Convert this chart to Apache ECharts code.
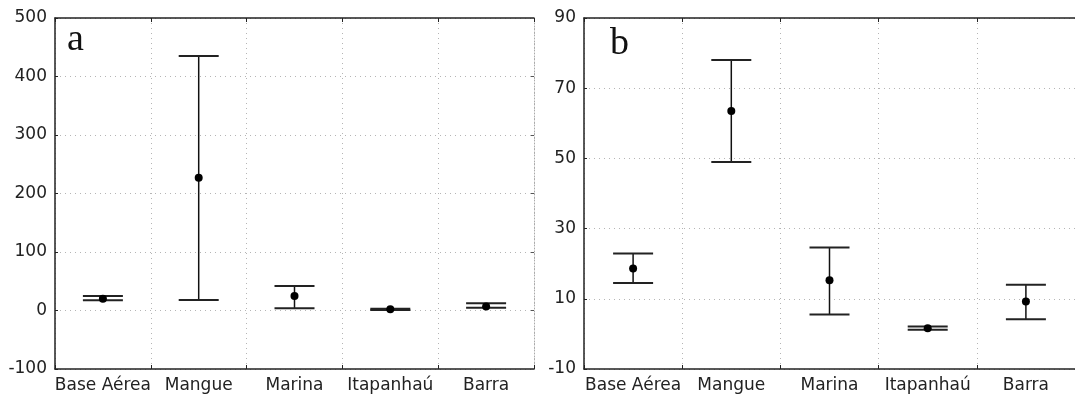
<!DOCTYPE html>
<html>
<head>
<meta charset="utf-8">
<script src="https://cdn.jsdelivr.net/npm/echarts@6/dist/echarts.min.js"></script>
<style>
  html, body { margin: 0; padding: 0; background: #fff; }
  #main { width: 1075px; height: 397px; }
</style>
</head>
<body>
<div id="main"></div>
<script>
var categories = ['Base Aérea', 'Mangue', 'Marina', 'Itapanhaú', 'Barra'];

// painel a
var meanA  = [20, 227, 25, 2, 7];
var lowerA = [17.7, 18, 4, 1, 4.5];
var upperA = [24.6, 435, 42, 3, 12.5];

// painel b
var meanB  = [18.6, 63.5, 15.3, 1.6, 9.2];
var lowerB = [14.5, 49, 5.5, 1.2, 4.2];
var upperB = [22.9, 78, 24.6, 2.1, 14.0];

var fontTxt = '"DejaVu Sans", sans-serif';
var chart = echarts.init(document.getElementById('main'));

function toData(mean, lo, hi) {
  var out = [];
  for (var i = 0; i < mean.length; i++) out.push([i, mean[i], lo[i], hi[i]]);
  return out;
}

// desenha barra de erro + ponto
function renderBar(params, api) {
  var x = api.value(0);
  var pm = api.coord([x, api.value(1)]);
  var pl = api.coord([x, api.value(2)]);
  var ph = api.coord([x, api.value(3)]);
  var half = 20;
  var capStyle = { stroke: '#222', lineWidth: 2 };
  return {
    type: 'group',
    children: [
      { type: 'line', shape: { x1: pm[0], y1: ph[1], x2: pm[0], y2: pl[1] }, style: { stroke: '#111', lineWidth: 1.5 } },
      { type: 'line', shape: { x1: pm[0] - half, y1: ph[1], x2: pm[0] + half, y2: ph[1] }, style: capStyle },
      { type: 'line', shape: { x1: pm[0] - half, y1: pl[1], x2: pm[0] + half, y2: pl[1] }, style: capStyle },
      { type: 'circle', shape: { cx: pm[0], cy: pm[1], r: 4 }, style: { fill: '#000' } }
    ]
  };
}

var dotted = { color: '#b5b5b5', type: [1, 4], width: 1 };

function bottomX(gi) {
  return {
    type: 'category', gridIndex: gi, data: categories, boundaryGap: true,
    axisLine: { onZero: false, lineStyle: { color: '#222', width: 1.5 } },
    axisTick: { show: true, inside: true, length: 4, lineStyle: { color: '#222' } },
    axisLabel: { color: '#222', fontSize: 17, fontFamily: fontTxt, margin: 8, interval: 0 },
    splitLine: { show: true, lineStyle: dotted }
  };
}
function topX(gi) {
  return {
    type: 'category', gridIndex: gi, data: categories, position: 'top', boundaryGap: true,
    axisLine: { onZero: false, lineStyle: { color: '#222', width: 1.5 } },
    axisTick: { show: true, inside: true, length: 4, lineStyle: { color: '#222' } },
    axisLabel: { show: false }, splitLine: { show: false }
  };
}

var option = {
  backgroundColor: '#ffffff',
  animation: false,
  grid: [
    { left: 55, width: 479, top: 18, height: 351 },
    { left: 584, width: 499, top: 18, height: 351 }
  ],
  xAxis: [bottomX(0), topX(0), bottomX(1), topX(1)],
  yAxis: [
    {
      type: 'value', gridIndex: 0, min: -100, max: 500, interval: 100,
      axisLine: { show: true, onZero: false, lineStyle: { color: '#222', width: 1.5 } },
      axisTick: { show: true, inside: true, length: 3, lineStyle: { color: '#222' } },
      axisLabel: { color: '#222', fontSize: 17, fontFamily: fontTxt, margin: 8 },
      splitLine: { show: true, lineStyle: dotted }
    },
    {
      type: 'value', gridIndex: 0, min: -100, max: 500, interval: 100, position: 'right',
      axisLine: { show: true, onZero: false, lineStyle: { color: '#aaa', type: [1, 2], width: 1 } },
      axisTick: { show: true, inside: true, length: 3, lineStyle: { color: '#555' } },
      axisLabel: { show: false }, splitLine: { show: false }
    },
    {
      type: 'value', gridIndex: 1, min: -10, max: 90, interval: 20,
      axisLine: { show: true, onZero: false, lineStyle: { color: '#222', width: 1.5 } },
      axisTick: { show: true, inside: true, length: 3, lineStyle: { color: '#222' } },
      axisLabel: { color: '#222', fontSize: 17, fontFamily: fontTxt, margin: 8 },
      splitLine: { show: true, lineStyle: dotted }
    }
  ],
  graphic: [
    { type: 'text', x: 67, y: 40, style: { text: 'a', font: '38px "Liberation Serif", serif', fill: '#111', verticalAlign: 'middle' } },
    { type: 'text', x: 610, y: 44, style: { text: 'b', font: '38px "Liberation Serif", serif', fill: '#111', verticalAlign: 'middle' } }
  ],
  series: [
    { type: 'custom', xAxisIndex: 0, yAxisIndex: 0, renderItem: renderBar, data: toData(meanA, lowerA, upperA), clip: false },
    { type: 'custom', xAxisIndex: 2, yAxisIndex: 2, renderItem: renderBar, data: toData(meanB, lowerB, upperB), clip: false }
  ]
};
chart.setOption(option);
</script>
</body>
</html>
